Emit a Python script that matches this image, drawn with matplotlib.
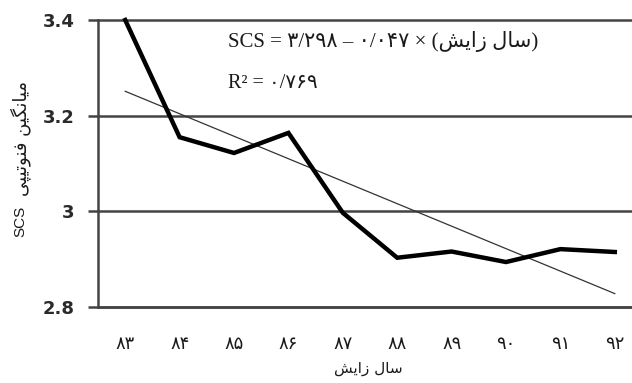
import matplotlib
matplotlib.use("Agg")
import matplotlib.pyplot as plt
from matplotlib.transforms import ScaledTranslation

# --- data ---
years = ["\u06f8\u06f3", "\u06f8\u06f4", "\u06f8\u06f5", "\u06f8\u06f6", "\u06f8\u06f7",
         "\u06f8\u06f8", "\u06f8\u06f9", "\u06f9\u06f0", "\u06f9\u06f1", "\u06f9\u06f2"]  # 83..92
scs_mean = [3.400, 3.155, 3.122, 3.164, 2.997, 2.903, 2.916, 2.894, 2.921, 2.915]
trend_intercept = 3.298
trend_slope = -0.047
y_ticks = [2.8, 3.0, 3.2, 3.4]
y_tick_labels = ["2.8", "3", "3.2", "3.4"]

# Persian strings pre-shaped (presentation forms, visual left-to-right order)
XLABEL = "\ufeb6\ufbfe\ufe8d\ufeaf \ufedd\ufe8e\ufeb3"                       # سال زایش
YLABEL_FA = ("\ufbfd\ufb59\ufef4\ufe97\ufeee\ufee8\ufed3 "                    # میانگین فنوتیپی
             "\ufee6\ufef4\ufb95\ufee7\ufe8e\ufef4\ufee3")
YLABEL_EN = "SCS"
EQ = ("SCS = \u06f3/\u06f2\u06f9\u06f8 \u2013 \u06f0/\u06f0\u06f4\u06f7 \u00d7 ("
      + XLABEL + ")")
R2 = "R\u00b2 = \u06f0/\u06f7\u06f6\u06f9"

GRIDC = "#444444"
INK = "#1a1a1a"

fig = plt.figure(figsize=(6.32, 3.83), dpi=100, facecolor="white")
ax = fig.add_axes([98 / 632, 1 - 307 / 383, 544 / 632, 287 / 383])

x = list(range(len(years)))
ax.plot(x, scs_mean, color="black", linewidth=3.2, solid_joinstyle="miter",
        zorder=3, clip_on=False)
trend = [trend_intercept + trend_slope * (i + 1) for i in x]
ax.plot(x, trend, color="#333333", linewidth=0.9, zorder=2)

ax.set_xlim(-0.5, len(years) - 0.5)
ax.set_ylim(2.8, 3.4)
ax.set_yticks(y_ticks)
ax.set_yticklabels(y_tick_labels, fontfamily="DejaVu Sans", fontweight="bold",
                   fontsize=13, color="#2a2a2a")
ax.set_xticks(x)
ax.set_xticklabels(years, fontfamily="DejaVu Sans", fontsize=13, color=INK)
shift = ScaledTranslation(6 / 100, 0, fig.dpi_scale_trans)
for lbl in ax.get_xticklabels():
    lbl.set_transform(lbl.get_transform() + shift)

ax.grid(axis="y", color=GRIDC, linewidth=1.8, zorder=1)
for gl in ax.get_ygridlines():
    gl.set_clip_on(False)
ax.tick_params(axis="y", length=7, width=1.8, color=GRIDC, pad=10)
ax.tick_params(axis="x", length=0, pad=20)
for s in ("top", "right"):
    ax.spines[s].set_visible(False)
for s in ("left", "bottom"):
    ax.spines[s].set_color(GRIDC)
    ax.spines[s].set_linewidth(1.8)

fig.text(368 / 632, 1 - 369 / 383, XLABEL, family="DejaVu Sans", fontsize=11,
         color=INK, ha="center", va="center")
fig.text(21 / 632, 1 - 138 / 383, YLABEL_FA, family="DejaVu Sans",
         fontsize=13, color=INK, ha="center", va="center", rotation=90)
fig.text(20 / 632, 1 - 221 / 383, YLABEL_EN, family="Liberation Sans",
         fontsize=11, color=INK, ha="center", va="center", rotation=90)

fig.text(228 / 632, 1 - 42 / 383, EQ, family=["Liberation Serif", "DejaVu Sans"],
         fontsize=15, color=INK, ha="left", va="center")
fig.text(228 / 632, 1 - 83 / 383, R2, family=["Liberation Serif", "DejaVu Sans"],
         fontsize=14.5, color=INK, ha="left", va="center")

fig.savefig("out.png", dpi=100, facecolor="white")
